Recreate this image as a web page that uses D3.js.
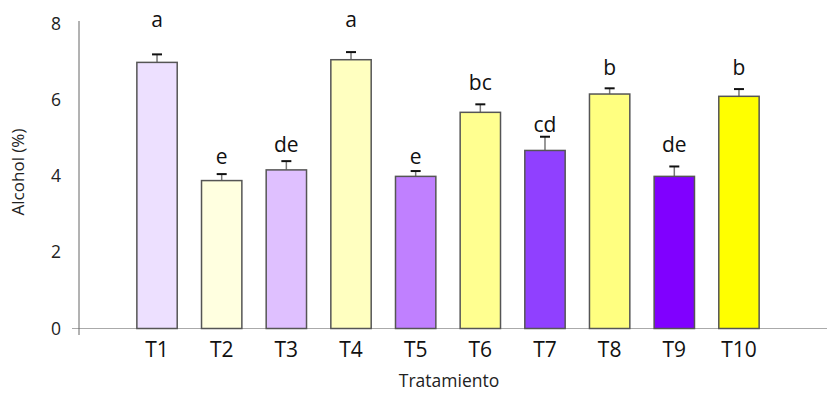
<!DOCTYPE html>
<html>
<head>
<meta charset="utf-8">
<script src="https://cdn.jsdelivr.net/npm/d3@7"></script>
<style>
  html, body { margin: 0; padding: 0; background: #fff; }
  svg { display: block; font-family: "Open Sans", "Noto Sans", sans-serif; }
</style>
</head>
<body>
<svg id="chart" width="827" height="396"></svg>
<script>
const categories = ["T1","T2","T3","T4","T5","T6","T7","T8","T9","T10"];
const values     = [6.98, 3.88, 4.16, 7.05, 3.99, 5.67, 4.67, 6.15, 3.99, 6.09];
const errors     = [0.21, 0.17, 0.23, 0.20, 0.14, 0.21, 0.36, 0.15, 0.26, 0.19];
const letters    = ["a","e","de","a","e","bc","cd","b","de","b"];
const letterLevel= [7.92, 4.31, 4.64, 7.92, 4.31, 6.26, 5.16, 6.65, 4.64, 6.65];
const colors     = ["#EDE0FF","#FFFFE0","#DFC0FF","#FFFFC0","#C080FF","#FFFF90","#9040FF","#FFFF80","#8000FF","#FFFF00"];
const yTicks     = [0, 2, 4, 6, 8];

const svg = d3.select("#chart");
const axisX = 79;

const x = d3.scaleBand()
  .domain(categories)
  .range([124.7, 771.3])
  .paddingInner(0.376)
  .paddingOuter(0.188);

const y = d3.scaleLinear().domain([0, 8]).range([328.5, 23.5]);

// baseline (extends across the plot)
svg.append("line")
  .attr("x1", 72).attr("x2", 827)
  .attr("y1", y(0)).attr("y2", y(0))
  .attr("stroke", "#aaa").attr("stroke-width", 1.2);

// y axis line
svg.append("line")
  .attr("x1", axisX).attr("x2", axisX)
  .attr("y1", 21).attr("y2", 335)
  .attr("stroke", "#666").attr("stroke-width", 1);

// y tick labels
svg.append("g").selectAll("text")
  .data(yTicks).join("text")
  .attr("x", 61)
  .attr("y", d => y(d))
  .attr("dy", "0.35em")
  .attr("text-anchor", "end")
  .attr("font-size", 17.5)
  .attr("fill", "#222")
  .text(d => d);

const data = categories.map((c, i) => ({
  c, v: values[i], e: errors[i], l: letters[i], ly: letterLevel[i], col: colors[i]
}));

// error bars
const eb = svg.append("g").selectAll("g").data(data).join("g");
eb.append("line")
  .attr("x1", d => x(d.c) + x.bandwidth() / 2)
  .attr("x2", d => x(d.c) + x.bandwidth() / 2)
  .attr("y1", d => y(d.v))
  .attr("y2", d => y(d.v + d.e))
  .attr("stroke", "#777").attr("stroke-width", 1.5);
eb.append("line")
  .attr("x1", d => x(d.c) + x.bandwidth() / 2 - 5)
  .attr("x2", d => x(d.c) + x.bandwidth() / 2 + 5)
  .attr("y1", d => y(d.v + d.e))
  .attr("y2", d => y(d.v + d.e))
  .attr("stroke", "#111").attr("stroke-width", 2);

// bars
svg.append("g").selectAll("rect").data(data).join("rect")
  .attr("x", d => x(d.c))
  .attr("y", d => y(d.v))
  .attr("width", x.bandwidth())
  .attr("height", d => y(0) - y(d.v))
  .attr("fill", d => d.col)
  .attr("stroke", "#555")
  .attr("stroke-width", 1.5);

// significance letters
svg.append("g").selectAll("text").data(data).join("text")
  .attr("x", d => x(d.c) + x.bandwidth() / 2)
  .attr("y", d => y(d.ly))
  .attr("text-anchor", "middle")
  .attr("font-size", 21)
  .attr("fill", "#111")
  .text(d => d.l);

// x tick labels
svg.append("g").selectAll("text").data(categories).join("text")
  .attr("x", d => x(d) + x.bandwidth() / 2)
  .attr("y", 357)
  .attr("text-anchor", "middle")
  .attr("font-size", 21)
  .attr("fill", "#111")
  .text(d => d);

// axis titles
svg.append("text")
  .attr("x", 449).attr("y", 387)
  .attr("text-anchor", "middle")
  .attr("font-size", 17.5)
  .attr("fill", "#222")
  .text("Tratamiento");

svg.append("text")
  .attr("transform", "translate(24,172) rotate(-90)")
  .attr("text-anchor", "middle")
  .attr("font-size", 17)
  .attr("fill", "#222")
  .text("Alcohol (%)");
</script>
</body>
</html>
